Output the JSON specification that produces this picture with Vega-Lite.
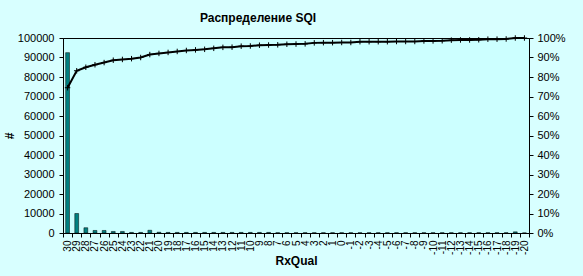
{
  "$schema": "https://vega.github.io/schema/vega-lite/v6.json",
  "autosize": "none",
  "padding": {"left": 63, "top": 38, "right": 54, "bottom": 43},
  "width": 466,
  "height": 195,
  "background": "#d8ffff",
  "config": {
    "view": {"fill": "#ccffff", "stroke": "#000000", "strokeWidth": 1},
    "font": "Liberation Sans",
    "axis": {"labelFont": "Liberation Sans", "labelFontSize": 11, "labelColor": "#000", "domainColor": "#000", "tickColor": "#000", "tickSize": 4, "grid": false, "titleFont": "Liberation Sans", "titleFontSize": 12, "titleFontWeight": "bold", "titleColor": "#000"}
  },
  "title": {"text": "Распределение SQI", "font": "Liberation Sans", "fontSize": 12, "fontWeight": "bold", "color": "#000", "anchor": "middle", "dx": -38, "offset": 7},
  "data": {"values": [
    {"q": "30", "n": 92500, "p": 0.745},
    {"q": "29", "n": 10000, "p": 0.832},
    {"q": "28", "n": 2700, "p": 0.850},
    {"q": "27", "n": 1300, "p": 0.863},
    {"q": "26", "n": 1300, "p": 0.874},
    {"q": "25", "n": 800, "p": 0.886},
    {"q": "24", "n": 800, "p": 0.890},
    {"q": "23", "n": 300, "p": 0.894},
    {"q": "22", "n": 300, "p": 0.900},
    {"q": "21", "n": 1400, "p": 0.915},
    {"q": "20", "n": 400, "p": 0.921},
    {"q": "19", "n": 300, "p": 0.926},
    {"q": "18", "n": 300, "p": 0.931},
    {"q": "17", "n": 300, "p": 0.936},
    {"q": "16", "n": 300, "p": 0.939},
    {"q": "15", "n": 300, "p": 0.942},
    {"q": "14", "n": 300, "p": 0.947},
    {"q": "13", "n": 300, "p": 0.952},
    {"q": "12", "n": 300, "p": 0.953},
    {"q": "11", "n": 300, "p": 0.958},
    {"q": "10", "n": 300, "p": 0.959},
    {"q": "9", "n": 300, "p": 0.963},
    {"q": "8", "n": 300, "p": 0.964},
    {"q": "7", "n": 150, "p": 0.965},
    {"q": "6", "n": 150, "p": 0.968},
    {"q": "5", "n": 150, "p": 0.969},
    {"q": "4", "n": 150, "p": 0.970},
    {"q": "3", "n": 150, "p": 0.975},
    {"q": "2", "n": 150, "p": 0.976},
    {"q": "1", "n": 150, "p": 0.976},
    {"q": "0", "n": 150, "p": 0.977},
    {"q": "-1", "n": 150, "p": 0.977},
    {"q": "-2", "n": 150, "p": 0.981},
    {"q": "-3", "n": 150, "p": 0.981},
    {"q": "-4", "n": 150, "p": 0.981},
    {"q": "-5", "n": 150, "p": 0.981},
    {"q": "-6", "n": 150, "p": 0.982},
    {"q": "-7", "n": 150, "p": 0.982},
    {"q": "-8", "n": 150, "p": 0.982},
    {"q": "-9", "n": 150, "p": 0.985},
    {"q": "-10", "n": 150, "p": 0.985},
    {"q": "-11", "n": 150, "p": 0.986},
    {"q": "-12", "n": 150, "p": 0.989},
    {"q": "-13", "n": 150, "p": 0.990},
    {"q": "-14", "n": 150, "p": 0.990},
    {"q": "-15", "n": 150, "p": 0.991},
    {"q": "-16", "n": 150, "p": 0.994},
    {"q": "-17", "n": 150, "p": 0.994},
    {"q": "-18", "n": 150, "p": 0.995},
    {"q": "-19", "n": 600, "p": 1.0},
    {"q": "-20", "n": 50, "p": 1.0}
  ]},
  "encoding": {
    "x": {"field": "q", "type": "nominal", "sort": null,
      "scale": {"paddingInner": 0, "paddingOuter": 0},
      "axis": {"title": "RxQual", "labelAngle": -90, "labelAlign": "right", "labelBaseline": "middle", "labelFontSize": 10, "labelPadding": 3, "tickBand": "extent", "titlePadding": 1, "labelOverlap": false}}
  },
  "layer": [
    {
      "mark": {"type": "bar", "fill": "#008080", "stroke": "#000000", "strokeWidth": 0.5, "width": {"band": 0.42}},
      "encoding": {
        "y": {"field": "n", "type": "quantitative", "scale": {"domain": [0, 100000], "nice": false},
          "axis": {"title": "#", "format": "d", "values": [0,10000,20000,30000,40000,50000,60000,70000,80000,90000,100000], "labelPadding": 5, "titlePadding": 1}}
      }
    },
    {
      "mark": {"type": "line", "color": "#000000", "strokeWidth": 2},
      "encoding": {
        "y": {"field": "p", "type": "quantitative", "scale": {"domain": [0, 1], "nice": false},
          "axis": {"orient": "right", "title": null, "format": ".0%", "values": [0,0.1,0.2,0.3,0.4,0.5,0.6,0.7,0.8,0.9,1.0], "labelPadding": 4}}
      }
    },
    {
      "mark": {"type": "point", "shape": "M-1,0L1,0M0,-1L0,1", "size": 30, "filled": false, "stroke": "#000000", "strokeWidth": 1, "opacity": 1},
      "encoding": {
        "y": {"field": "p", "type": "quantitative", "scale": {"domain": [0, 1], "nice": false}, "axis": null}
      }
    }
  ],
  "resolve": {"scale": {"y": "independent"}}
}
